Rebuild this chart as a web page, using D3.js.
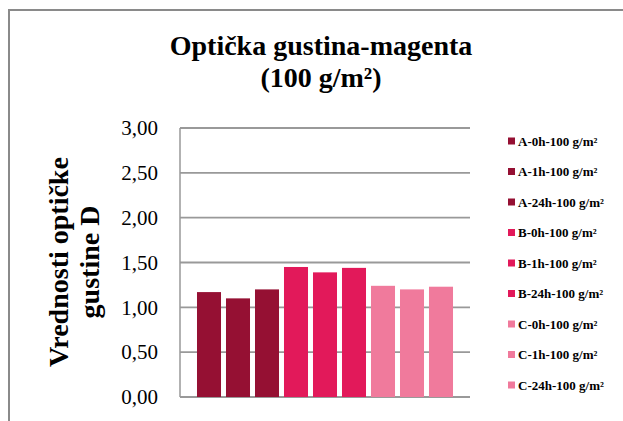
<!DOCTYPE html>
<html>
<head>
<meta charset="utf-8">
<script src="https://cdn.jsdelivr.net/npm/d3@7"></script>
<style>
  body { margin: 0; background: #fff; }
  text { font-family: "Liberation Serif", "Times New Roman", serif; }
</style>
</head>
<body>
<div id="chart"></div>
<script>
// data
const series = ["A-0h-100 g/m²", "A-1h-100 g/m²", "A-24h-100 g/m²",
                "B-0h-100 g/m²", "B-1h-100 g/m²", "B-24h-100 g/m²",
                "C-0h-100 g/m²", "C-1h-100 g/m²", "C-24h-100 g/m²"];
const values = [1.17, 1.10, 1.20, 1.45, 1.39, 1.44, 1.24, 1.20, 1.23];
const yTicks = [0, 0.5, 1, 1.5, 2, 2.5, 3];
const colors = ["#951033", "#951033", "#951033",
                "#e2195a", "#e2195a", "#e2195a",
                "#f07a9c", "#f07a9c", "#f07a9c"];

const W = 623, H = 421;
const margin = {top: 128, right: 153, bottom: 24, left: 180};
const width = W - margin.left - margin.right, height = H - margin.top - margin.bottom;

const svg = d3.select("#chart").append("svg")
    .attr("width", W)
    .attr("height", H);

// outer chart frame (runs off the right/bottom edge)
svg.append("rect")
    .attr("x", 9).attr("y", 10)
    .attr("width", W + 20).attr("height", H + 20)
    .attr("fill", "none")
    .attr("stroke", "#8a8a8a")
    .attr("stroke-width", 2);

svg.append("text")
    .attr("x", 321).attr("y", 55)
    .attr("text-anchor", "middle")
    .style("font-size", "28px").style("font-weight", "bold")
    .text("Optička gustina-magenta");
svg.append("text")
    .attr("x", 321).attr("y", 87)
    .attr("text-anchor", "middle")
    .style("font-size", "28px").style("font-weight", "bold")
    .text("(100 g/m²)");

const g = svg.append("g").attr("transform", "translate(" + margin.left + "," + margin.top + ")");

const x = d3.scaleBand().domain(series).range([0, width]).paddingInner(0.172).paddingOuter(0.586);
const y = d3.scaleLinear().domain([0, 3]).range([height, 0]);

// gridlines
g.selectAll(".grid")
    .data(yTicks)
    .enter().append("line")
    .attr("class", "grid")
    .attr("x1", 0).attr("x2", width)
    .attr("y1", d => y(d)).attr("y2", d => y(d))
    .attr("stroke", "#999")
    .attr("stroke-width", 1.8);

g.append("line")
    .attr("x1", 0).attr("x2", 0)
    .attr("y1", 0).attr("y2", height)
    .attr("stroke", "#999")
    .attr("stroke-width", 1.5);

const yAxis = g.append("g")
    .call(d3.axisLeft(y).tickValues(yTicks).tickSize(0).tickPadding(22)
        .tickFormat(d => d3.format(".2f")(d).replace(".", ",")));
yAxis.select(".domain").remove();
yAxis.selectAll("text")
    .style("font-family", "Liberation Serif, serif")
    .style("font-size", "21px")
    .attr("fill", "#000");

g.selectAll(".bar")
    .data(values)
    .enter().append("rect")
    .attr("class", "bar")
    .attr("x", (d, i) => x(series[i]))
    .attr("y", d => y(d))
    .attr("width", x.bandwidth())
    .attr("height", d => height - y(d))
    .style("fill", (d, i) => colors[i]);

// y axis title
const ytitle = svg.append("text")
    .attr("transform", "translate(68,262) rotate(-90)")
    .attr("text-anchor", "middle")
    .style("font-size", "28px").style("font-weight", "bold");
ytitle.append("tspan").attr("x", 0).attr("dy", 0).text("Vrednosti optičke");
ytitle.append("tspan").attr("x", 0).attr("dy", 31).text("gustine D");

// legend
const legend = svg.append("g").attr("transform", "translate(508,141)");
const item = legend.selectAll(".item")
    .data(series)
    .enter().append("g")
    .attr("class", "item")
    .attr("transform", (d, i) => "translate(0," + (i * 30.5) + ")");
item.append("rect")
    .attr("x", 0).attr("y", -3.5)
    .attr("width", 7).attr("height", 7)
    .style("fill", (d, i) => colors[i]);
item.append("text")
    .attr("x", 10).attr("y", 4.5)
    .style("font-size", "13px").style("font-weight", "bold")
    .text(d => d);
</script>
</body>
</html>
